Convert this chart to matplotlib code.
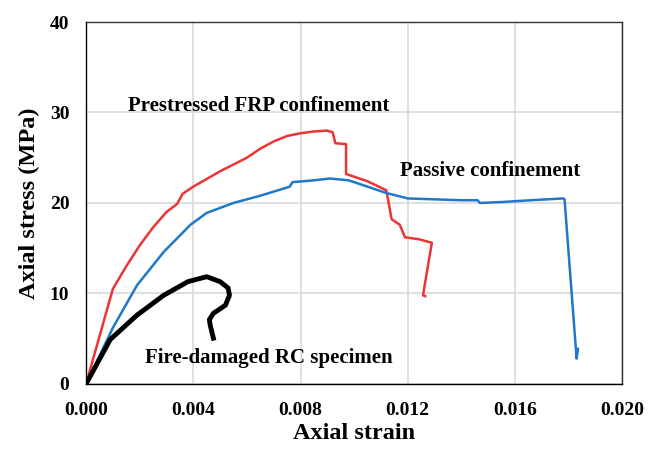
import numpy as np
import matplotlib.pyplot as plt

# Prestressed FRP confinement (red)
frp_strain = [0.0, 0.001, 0.0015, 0.002, 0.0025, 0.003, 0.0034, 0.0036, 0.004, 0.005,
              0.006, 0.0065, 0.007, 0.0075, 0.008, 0.0085, 0.009, 0.0092, 0.0093, 0.0097,
              0.0097, 0.0105, 0.0112, 0.0114, 0.0117, 0.0119, 0.0124, 0.0129, 0.01257, 0.01265]
frp_stress = [0.0, 10.5, 13.0, 15.3, 17.3, 19.0, 19.9, 21.0, 21.8, 23.5,
              25.0, 26.0, 26.8, 27.4, 27.7, 27.9, 28.0, 27.8, 26.6, 26.5,
              23.2, 22.4, 21.4, 18.2, 17.6, 16.2, 16.0, 15.6, 9.8, 9.7]

# Passive confinement (blue)
pas_strain = [0.0, 0.001, 0.0019, 0.0029, 0.0039, 0.0045, 0.0055, 0.0065, 0.0076, 0.0077,
              0.0085, 0.0091, 0.0098, 0.0105, 0.0112, 0.012, 0.013, 0.014, 0.0146, 0.0147,
              0.0155, 0.0166, 0.0178, 0.01785, 0.0183, 0.01835, 0.0183]
pas_stress = [0.0, 6.2, 10.9, 14.6, 17.6, 18.9, 20.0, 20.8, 21.8, 22.3,
              22.5, 22.7, 22.5, 21.8, 21.1, 20.5, 20.4, 20.3, 20.3, 20.0,
              20.1, 20.3, 20.5, 20.4, 2.8, 3.9, 3.4]

# Fire-damaged RC specimen (black)
fire_strain = [0.0, 0.0009, 0.0019, 0.0029, 0.0038, 0.0045, 0.005, 0.0053, 0.00535, 0.0052,
               0.00475, 0.0046, 0.00463, 0.00475]
fire_stress = [0.0, 4.9, 7.6, 9.8, 11.3, 11.85, 11.3, 10.6, 9.8, 8.7,
               7.8, 7.1, 6.5, 5.05]

plt.rcParams['font.family'] = ['Liberation Serif', 'DejaVu Serif']
plt.rcParams['font.weight'] = 'bold'

fig = plt.figure(figsize=(6.57, 4.49), dpi=100)
ax = fig.add_axes([0.131, 0.145, 0.816, 0.806])

ax.plot(frp_strain, frp_stress, color='#EE3333', lw=1.8, zorder=3)
ax.plot(pas_strain, pas_stress, color='#1F78C8', lw=1.8, zorder=3)
ax.plot(fire_strain, fire_stress, color='black', lw=3.5, zorder=4)

ax.set_xlim(0, 0.020)
ax.set_ylim(0, 40)
ax.set_xticks(np.arange(0, 0.0201, 0.004))
ax.set_yticks(np.arange(0, 41, 10))
ax.set_xticklabels(['0.000', '0.004', '0.008', '0.012', '0.016', '0.020'])
ax.tick_params(axis='x', length=0, labelsize=14, pad=13)
ax.tick_params(axis='y', length=0, labelsize=14, pad=12)
for lab in ax.get_xticklabels() + ax.get_yticklabels():
    lab.set_fontweight('bold')
ax.grid(True, color='#D9D9D9', lw=1.2)
ax.set_axisbelow(True)
for s in ax.spines.values():
    s.set_color('#333333')
    s.set_linewidth(1.0)
ax.spines['left'].set_color('black')
ax.spines['bottom'].set_color('black')

ax.set_xlabel('Axial strain', fontsize=17.5, fontweight='bold', labelpad=3)
ax.set_ylabel('Axial stress (MPa)', fontsize=17.5, fontweight='bold', labelpad=7)

ax.text(0.00155, 30.2, 'Prestressed FRP confinement', fontsize=15, fontweight='bold')
ax.text(0.0117, 23.0, 'Passive confinement', fontsize=15, fontweight='bold')
ax.text(0.0022, 2.3, 'Fire-damaged RC specimen', fontsize=15, fontweight='bold')

plt.savefig('out.png', dpi=100)
